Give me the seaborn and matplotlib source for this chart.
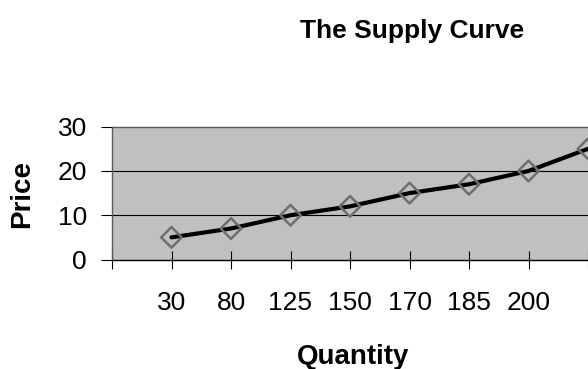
import numpy as np
import pandas as pd
import matplotlib
matplotlib.use("Agg")
import matplotlib.pyplot as plt
import seaborn as sns

# Données (dernier point coupé à droite, étiquette invisible)
quantity = ["30", "80", "125", "150", "170", "185", "200", ""]
price = [5, 7, 10, 12, 15, 17, 20, 25]
y_ticks = [0, 10, 20, 30]

df = pd.DataFrame({"quantity": quantity, "price": price})
df["pos"] = np.arange(len(df))

sns.set_style("white", {"text.color": "black", "xtick.color": "black",
                        "ytick.color": "black", "axes.labelcolor": "black"})
plt.rcParams["font.family"] = ["Liberation Sans", "DejaVu Sans"]

fig = plt.figure(figsize=(5.88, 3.69), dpi=100)
ax = fig.add_axes([112 / 588, 1 - 259.5 / 369, 476 / 588, 132.8 / 369])
ax.set_facecolor("#C0C0C0")

# grille horizontale
for yv in y_ticks[1:-1]:
    ax.axhline(yv, color="black", lw=0.8, zorder=1)

sns.lineplot(data=df, x="pos", y="price", color="black", lw=3, ax=ax,
             zorder=3)
sns.scatterplot(data=df, x="pos", y="price", marker="D", s=110,
                facecolor="none", edgecolor="#6e6e6e", linewidth=1.8,
                ax=ax, zorder=4)

ax.set_xlim(-1, len(df) - 1)
ax.set_ylim(y_ticks[0], y_ticks[-1])

ax.set_xticks(np.arange(-1, len(df)))
ax.set_xticklabels([""] + quantity)
ax.set_yticks(y_ticks)
ax.tick_params(axis="x", direction="inout", length=13, width=0.8,
               colors="black", labelsize=19, pad=16, bottom=True)
ax.tick_params(axis="y", direction="out", length=8, width=0.8,
               colors="black", labelsize=19, pad=10, left=True)

for side in ["top", "left"]:
    ax.spines[side].set_color("#5a5a5a")
    ax.spines[side].set_linewidth(1)
ax.spines["bottom"].set_color("black")
ax.spines["bottom"].set_linewidth(1)
ax.spines["right"].set_visible(False)

ax.set_xlabel("")
ax.set_ylabel("")

fig.text(412 / 588, 1 - 31 / 369, "The Supply Curve", ha="center",
         va="center", fontsize=19, fontweight="bold", color="black")
fig.text(353 / 588, 1 - 357 / 369, "Quantity", ha="center", va="center",
         fontsize=20, fontweight="bold", color="black")
fig.text(22 / 588, 1 - 194 / 369, "Price", ha="center", va="center",
         rotation=90, fontsize=20, fontweight="bold", color="black")

fig.savefig("out.png", dpi=100)
plt.close()
